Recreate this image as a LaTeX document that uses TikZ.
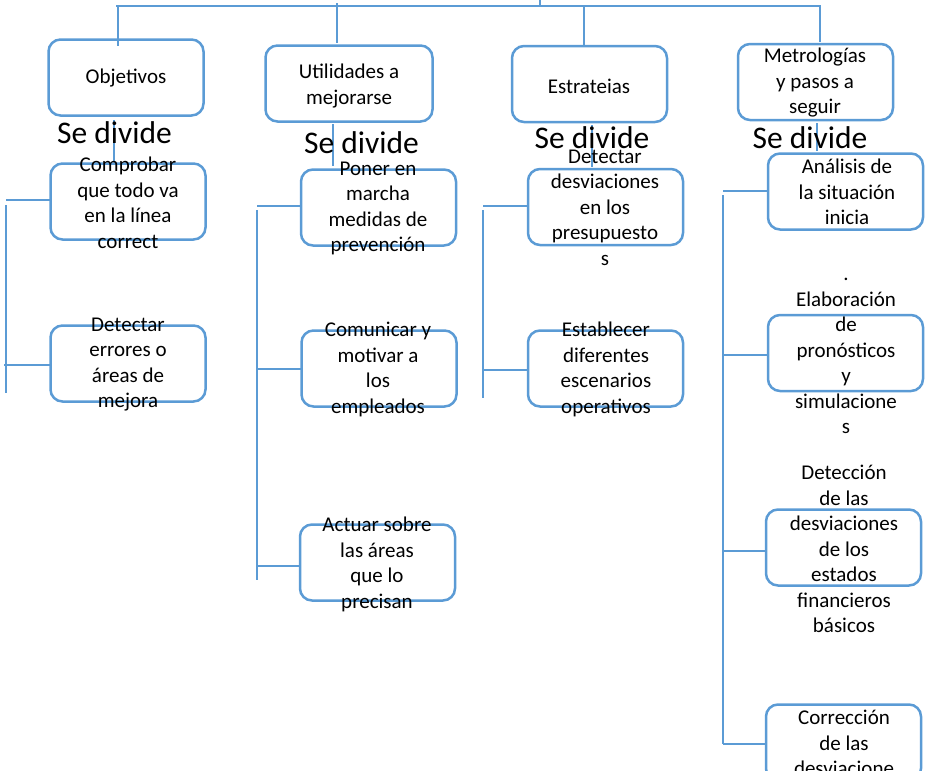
\documentclass[tikz,border=0pt]{standalone}
\usepackage{fontspec}
\setmainfont{Carlito}
\begin{document}
\begin{tikzpicture}[x=1pt,y=-1pt]
\definecolor{bx}{HTML}{5B9BD5}
\tikzset{
 box/.style={draw=bx, line width=2.5pt, rounded corners=12pt, minimum width=155pt, minimum height=76pt, inner sep=0pt, outer sep=0pt},
 conn/.style={draw=bx, line width=1.3pt},
 txt/.style={align=center, font=\fontsize{21}{25.5}\selectfont, inner sep=0pt},
 div/.style={font=\fontsize{31.5}{36}\selectfont, inner sep=0pt, anchor=base},
}
\useasboundingbox (0,0) rectangle (927,771);
\clip (0,0) rectangle (927,771);

% boxes
\node[box] (obj) at (126,77.5) {};
\node[box, minimum width=167pt] (util) at (349,83.5) {};
\node[box] (estr) at (589.5,84) {};
\node[box] (metr) at (815.5,82) {};

\node[box] (c1a) at (128,201.5) {};
\node[box] (c1b) at (128,363.5) {};
\node[box] (c2a) at (378.5,207.5) {};
\node[box] (c2b) at (379,368.5) {};
\node[box] (c2c) at (377.5,562.5) {};
\node[box] (c3a) at (605.5,207) {};
\node[box] (c3b) at (605.5,368.5) {};
\node[box] (c4a) at (845.5,191.5) {};
\node[box] (c4b) at (845.5,353) {};
\node[box] (c4c) at (843.5,547.5) {};
\node[box] (c4d) at (843.5,742.5) {};

% top bar
\coordinate (top) at (540,0);
\coordinate (barM) at (540,6);
\coordinate (barL) at (116,6);
\coordinate (barR) at (821,6);
\draw[conn] (top) -- (barM);
\draw[conn] (barL) -- (barR);

\coordinate (s1) at (118,6);  \coordinate (e1) at (118,46);
\coordinate (s2) at (337,3);  \coordinate (e2) at (337,43);
\coordinate (s3) at (584,5);  \coordinate (e3) at (584,46);
\coordinate (s4) at (820,6);  \coordinate (e4) at (820,42);
\draw[conn] (s1) -- (e1);
\draw[conn] (s2) -- (e2);
\draw[conn] (s3) -- (e3);
\draw[conn] (s4) -- (e4);

% parent to child verticals
\coordinate (p1a) at (114,120); \coordinate (p1b) at (114,161);
\coordinate (p2a) at (333,124); \coordinate (p2b) at (333,166);
\coordinate (p3a) at (592,125); \coordinate (p3b) at (592,167);
\coordinate (p4a) at (817,123); \coordinate (p4b) at (817,151);
\draw[conn] (p1a) -- (p1b);
\draw[conn] (p2a) -- (p2b);
\draw[conn] (p3a) -- (p3b);
\draw[conn] (p4a) -- (p4b);

% column 1 side
\coordinate (h1a) at (6,200);
\coordinate (h1b) at (4,365);
\coordinate (v1t) at (6,205); \coordinate (v1b) at (6,393);
\draw[conn] (c1a.west |- h1a) -- (h1a);
\draw[conn] (c1b.west |- h1b) -- (h1b);
\draw[conn] (v1t) -- (v1b);

% column 2 side
\coordinate (h2a) at (257,206);
\coordinate (h2b) at (257,369);
\coordinate (h2c) at (257,566);
\coordinate (v2t) at (257,210); \coordinate (v2b) at (257,580);
\draw[conn] (c2a.west |- h2a) -- (h2a);
\draw[conn] (c2b.west |- h2b) -- (h2b);
\draw[conn] (c2c.west |- h2c) -- (h2c);
\draw[conn] (v2t) -- (v2b);

% column 3 side
\coordinate (h3a) at (483,206);
\coordinate (h3b) at (483,370);
\coordinate (v3t) at (483,210); \coordinate (v3b) at (483,398);
\draw[conn] (c3a.west |- h3a) -- (h3a);
\draw[conn] (c3b.west |- h3b) -- (h3b);
\draw[conn] (v3t) -- (v3b);

% column 4 side
\coordinate (h4a) at (723,191);
\coordinate (h4b) at (723,355);
\coordinate (h4c) at (723,551);
\coordinate (h4d) at (723,744);
\coordinate (v4t) at (723,195);
\draw[conn] (c4a.west |- h4a) -- (h4a);
\draw[conn] (c4b.west |- h4b) -- (h4b);
\draw[conn] (c4c.west |- h4c) -- (h4c);
\draw[conn] (c4d.west |- h4d) -- (h4d);
\draw[conn] (v4t) -- (h4d);

% texts
\node[txt] (objT) at (126,78) {Objetivos};
\node[txt] (utilT) at (349,86) {Utilidades a\\mejorarse};
\node[txt] (estrT) at (589,86) {Estrateias};
\node[txt] (metrT) at (815,83) {Metrologías\\y pasos a\\seguir};

\node[txt] (c1aT) at (128,203) {Comprobar\\que todo va\\en la línea\\correct};
\node[txt] (c1bT) at (128,364.5) {Detectar\\errores o\\áreas de\\mejora};
\node[txt] (c2aT) at (378,208.5) {Poner en\\marcha\\medidas de\\prevención};
\node[txt] (c2bT) at (378,369.5) {Comunicar y\\motivar a\\los\\empleados};
\node[txt] (c2cT) at (377,564.5) {Actuar sobre\\las áreas\\que lo\\precisan};
\node[txt] (c3aT) at (605,207.5) {Detectar\\desviaciones\\en los\\presupuesto\\s};
\node[txt] (c3bT) at (606,369.5) {Establecer\\diferentes\\escenarios\\operativos};
\node[txt] (c4aT) at (847,192) {Análisis de\\la situación\\inicia};
\node[txt] (c4bT) at (846,356) {.\\Elaboración\\de\\pronósticos\\y\\simulacione\\s};
\node[txt] (c4cT) at (844,549) {Detección\\de las\\desviaciones\\de los\\estados\\financieros\\básicos};
\node[txt] (c4dT) at (844,756) {Corrección\\de las\\desviacione\\s};

% Se divide
\node[div] (d1) at (114.5,143) {Se divide};
\node[div] (d2) at (361.5,153) {Se divide};
\node[div] (d3) at (592,148) {Se divide};
\node[div] (d4) at (810,148) {Se divide};
\end{tikzpicture}
\end{document}
